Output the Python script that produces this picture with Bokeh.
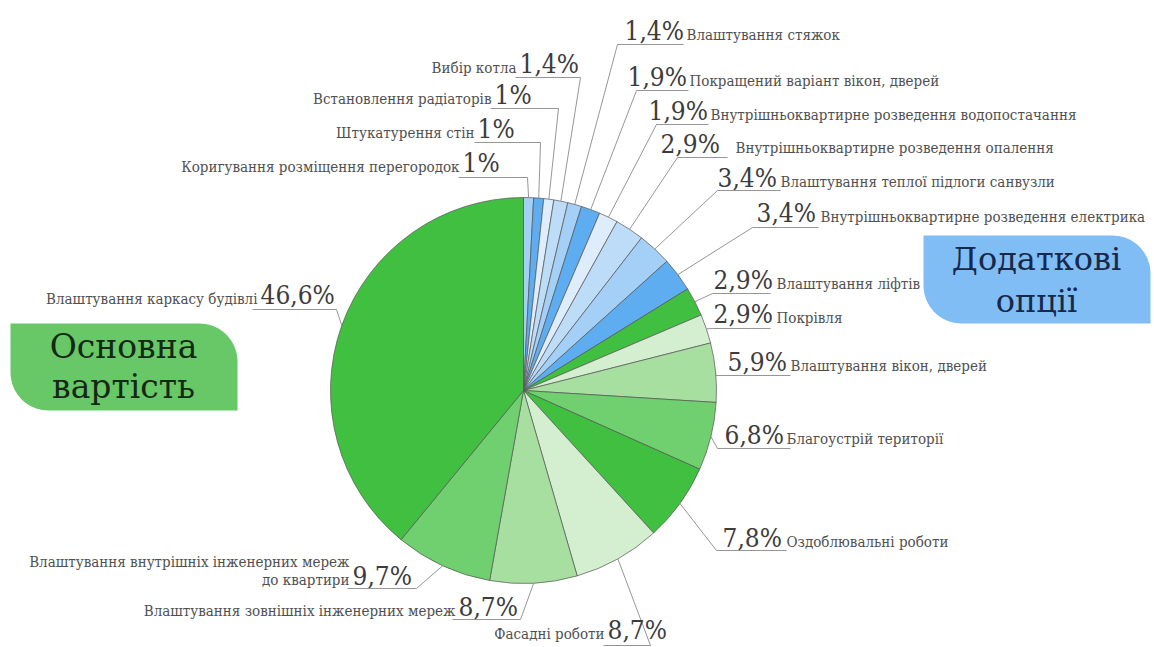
import numpy as np
from bokeh.plotting import figure
from bokeh.models import Range1d
from bokeh.core.properties import value
from bokeh.embed import file_html
from bokeh.resources import INLINE

# ---------------- data (clockwise from 12 o'clock) ----------------
categories = [
    "Коригування розміщення перегородок",
    "Штукатурення стін",
    "Встановлення радіаторів",
    "Вибір котла",
    "Влаштування стяжок",
    "Покращений варіант вікон, дверей",
    "Внутрішньоквартирне розведення водопостачання",
    "Внутрішньоквартирне розведення опалення",
    "Влаштування теплої підлоги санвузли",
    "Внутрішньоквартирне розведення електрика",
    "Влаштування ліфтів",
    "Покрівля",
    "Влаштування вікон, дверей",
    "Благоустрій території",
    "Оздоблювальні роботи",
    "Фасадні роботи",
    "Влаштування зовнішніх інженерних мереж",
    "Влаштування внутрішніх інженерних мереж\nдо квартири",
    "Влаштування каркасу будівлі",
]
values = [1, 1, 1, 1.4, 1.4, 1.9, 1.9, 2.9, 3.4, 3.4,
          2.9, 2.9, 5.9, 6.8, 7.8, 8.7, 8.7, 9.7, 46.6]
group_labels = ["Основна\nвартість", "Додаткові\nопції"]

# ---------------- styles ----------------
colors = ["#a4cff6", "#5eadf1", "#ddedfb", "#bddcf8", "#a4cff6",
          "#5eadf1", "#ddedfb", "#bddcf8", "#a4cff6", "#5eadf1",
          "#41bf41", "#d4efd0", "#a6dfa0", "#70cf6e", "#41bf41",
          "#d4efd0", "#a6dfa0", "#70cf6e", "#41bf41"]

# label layout (reference pixel coords, y downward; y = baseline)
side   = ["L", "L", "L", "L", "R", "R", "R", "R", "R", "R",
          "R", "R", "R", "R", "R", "L", "L", "L", "L"]
pct_x  = [462, 477, 494, 519, 624, 627, 648, 660, 717, 756,
          713, 713, 727, 724, 722, 607, 458, 352, 260]
base_y = [171, 137, 103, 72, 39, 85, 119, 152, 186, 221,
          288, 322, 370, 443, 546, 638, 615, 584, 303]
name_x = [459, 474, 491, 516, 686, 689, 710, 735, 780, 820,
          776, 776, 790, 786, 786, 604, 455, 349, 257]
ul_x0  = [458, 474, 490, 515, 617, 636, 656, 677, 717, 752,
          712, 712, 715, 717, 716, 603, 452, 347, 252]
ul_x1  = [527, 540, 558, 580, 683, 688, 708, 727, 780, 818,
          770, 770, 790, 790, 786, 650, 520, 416, 336]
ul_y   = [177, 142, 108, 77, 44, 90, 124, 157, 190, 227,
          293, 328, 375, 448, 550, 645, 619, 588, 309]

W, H = 1154, 647
CX, CY_PX, R = 523, 390, 193
CY = H - CY_PX
COND = value("DejaVu Serif Condensed")

p = figure(width=W, height=H, x_range=Range1d(0, W), y_range=Range1d(0, H),
           output_backend="svg", toolbar_location=None, min_border=0)
p.axis.visible = False
p.grid.visible = False
p.outline_line_color = None
p.background_fill_color = "white"
p.border_fill_color = "white"

# ---------------- pie ----------------
vals = np.array(values, dtype=float)
total = vals.sum()
cum = np.concatenate([[0.0], np.cumsum(vals)])
start = np.pi / 2 - 2 * np.pi * cum[:-1] / total
end = np.pi / 2 - 2 * np.pi * cum[1:] / total
p.wedge(x=[CX] * len(vals), y=[CY] * len(vals), radius=R,
        start_angle=list(start), end_angle=list(end), direction="clock",
        fill_color=colors, line_color="#555555", line_width=0.7)

# ---------------- leader lines & underlines ----------------
mid = 2 * np.pi * (cum[:-1] + vals / 2) / total
ex = CX + R * np.sin(mid)
ey = CY + R * np.cos(mid)
lx = [ul_x0[i] if side[i] == "R" else ul_x1[i] for i in range(len(vals))]
ly = [H - y for y in ul_y]
p.segment(x0=list(ex), y0=list(ey), x1=lx, y1=ly, line_color="#8a8a8a", line_width=0.9)
p.segment(x0=ul_x0, y0=ly, x1=ul_x1, y1=ly, line_color="#8a8a8a", line_width=0.9)

# ---------------- group boxes ----------------
def leaf(x0, y0p, x1, y1p, r):
    top, bot = H - y0p, H - y1p
    t1 = np.linspace(np.pi / 2, 0, 20)
    t2 = np.linspace(3 * np.pi / 2, np.pi, 20)
    xs = [x0] + list(x1 - r + r * np.cos(t1)) + [x1, x0 + r] + list(x0 + r + r * np.cos(t2)) + [x0]
    ys = [top] + list(top - r + r * np.sin(t1)) + [bot, bot] + list(bot + r + r * np.sin(t2)) + [top]
    return xs, ys

gx, gy = leaf(10, 323, 237, 410, 38)
p.patch(gx, gy, fill_color="#68c868", line_color=None)
bx, by = leaf(923, 235, 1150, 323, 38)
p.patch(bx, by, fill_color="#80bdf4", line_color=None)

# ---------------- texts ----------------
def fmt(v):
    return f"{v:g}".replace(".", ",") + "%"

pct_text = [fmt(v) for v in values]
p.text(x=pct_x, y=[H - b + 9 for b in base_y], text=pct_text,
       text_font=COND, text_font_size="26px", text_color="#3c3c3c",
       text_align="left", text_baseline="middle")

nx, ny, nt, na = [], [], [], []
for i, name in enumerate(categories):
    lines = name.split("\n")
    for k, line in enumerate(reversed(lines)):
        nx.append(name_x[i])
        ny.append(H - base_y[i] + 5 + k * 18)
        nt.append(line)
        na.append("left" if side[i] == "R" else "right")
p.text(x=nx, y=ny, text=nt, text_align=na, text_font=COND,
       text_font_size="15px", text_color="#505050", text_baseline="middle")

g_lines = group_labels[0].split("\n")
p.text(x=[123, 123], y=[H - 346, H - 386], text=g_lines, text_font=value("DejaVu Serif"),
       text_font_size="33px", text_color="#142814", text_align="center",
       text_baseline="middle")
b_lines = group_labels[1].split("\n")
p.text(x=[1036, 1036], y=[H - 258, H - 300], text=b_lines, text_font=value("DejaVu Serif"),
       text_font_size="32px", text_color="#17284a", text_align="center",
       text_baseline="middle")

open("out.html", "w").write(file_html(p, INLINE))
